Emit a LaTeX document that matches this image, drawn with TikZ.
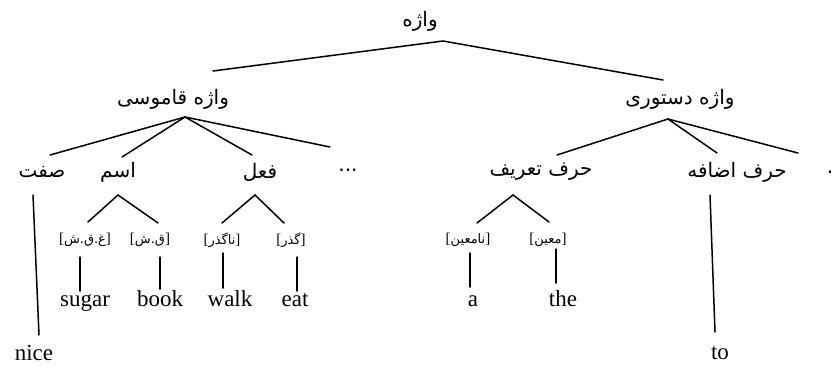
\documentclass[tikz,border=0pt]{standalone}
\usepackage{fontspec}
\setmainfont{Liberation Serif}
\newfontfamily\arabicfont[Script=Arabic]{DejaVu Sans}
\TeXXeTstate=1
\newcommand{\ar}[1]{{\arabicfont\beginR #1\endR}}
\tikzset{
  lbl/.style={font=\arabicfont\fontsize{20}{24}\selectfont, inner sep=0pt},
  brk/.style={font=\fontsize{15}{17}\selectfont, inner sep=0pt},
  brkar/.style={font=\fontsize{13}{15}\selectfont},
  en/.style={font=\fontsize{23}{26}\selectfont, inner sep=0pt},
  edge/.style={line width=1.5pt, line cap=round}
}
\newcommand{\brlab}[1]{[{\arabicfont\fontsize{13}{15}\selectfont\beginR #1\endR}]}
\begin{document}
\begin{tikzpicture}[x=1pt,y=1pt]
\useasboundingbox (0,0) rectangle (834,-367);
% nodes
\node[lbl] (root) at (420,-21) {\ar{واژه}};
\node[lbl] (lex) at (173,-99) {\ar{واژه قاموسی}};
\node[lbl] (gram) at (680,-99) {\ar{واژه دستوری}};
\node[lbl] (sifat) at (42,-172) {\ar{صفت}};
\node[lbl] (esm) at (118,-172) {\ar{اسم}};
\node[lbl] (fel) at (260,-172) {\ar{فعل}};
\node[lbl] (etc) at (348,-170) {...};
\node[lbl] (tarif) at (541,-172) {\ar{حرف تعریف}};
\node[lbl] (ezafe) at (737,-172) {\ar{حرف اضافه}};
\node[lbl] (dotr) at (830,-172) {.};
\node[brk] (b1) at (85,-240) {\brlab{غ.ق.ش}};
\node[brk] (b2) at (150,-240) {\brlab{ق.ش}};
\node[brk] (b3) at (222,-240) {\brlab{ناگذر}};
\node[brk] (b4) at (291,-240) {\brlab{گذر}};
\node[brk] (b5) at (468,-240) {\brlab{نامعین}};
\node[brk] (b6) at (548,-240) {\brlab{معین}};
\node[en, anchor=base] (sugar) at (85,-306) {sugar};
\node[en, anchor=base] (book) at (160,-306) {book};
\node[en, anchor=base] (walk) at (230,-306) {walk};
\node[en, anchor=base] (eat) at (295,-306) {eat};
\node[en, anchor=base] (a) at (473,-306) {a};
\node[en, anchor=base] (the) at (563,-306) {the};
\node[en, anchor=base] (nice) at (34,-360) {nice};
\node[en, anchor=base] (to) at (720,-359) {to};
% connector end points
\coordinate (rootA) at (443,-41);
\coordinate (lexT) at (213,-71);
\coordinate (gramT) at (663,-80);
\coordinate (lexA) at (185,-117);
\coordinate (sifatT) at (50,-155);
\coordinate (esmT) at (122,-157);
\coordinate (felT) at (252,-155);
\coordinate (etcT) at (330,-147);
\coordinate (gramA) at (668,-119);
\coordinate (tarifT) at (557,-155);
\coordinate (ezafeT) at (717,-153);
\coordinate (dotrT) at (798,-153);
\coordinate (esmA) at (118,-195);
\coordinate (b1T) at (88,-222);
\coordinate (b2T) at (158,-223);
\coordinate (felA) at (255,-195);
\coordinate (b3T) at (222,-223);
\coordinate (b4T) at (284,-223);
\coordinate (tarifA) at (513,-195);
\coordinate (b5T) at (477,-223);
\coordinate (b6T) at (549,-222);
\coordinate (sifatB) at (33,-195);
\coordinate (niceT) at (39,-335);
\coordinate (ezafeB) at (710,-195);
\coordinate (toT) at (715,-332);
\coordinate (b1B) at (80,-257); \coordinate (sugarT) at (80,-291);
\coordinate (b2B) at (160,-257); \coordinate (bookT) at (160,-289);
\coordinate (b3B) at (223,-253); \coordinate (walkT) at (223,-288);
\coordinate (b4B) at (297,-257); \coordinate (eatT) at (297,-291);
\coordinate (b5B) at (470,-253); \coordinate (aT) at (470,-287);
\coordinate (b6B) at (556,-249); \coordinate (theT) at (556,-283);
% connectors
\draw[edge] (lexT) -- (rootA) -- (gramT);
\draw[edge] (lexA) -- (sifatT);
\draw[edge] (lexA) -- (esmT);
\draw[edge] (lexA) -- (felT);
\draw[edge] (lexA) -- (etcT);
\draw[edge] (gramA) -- (tarifT);
\draw[edge] (gramA) -- (ezafeT);
\draw[edge] (gramA) -- (dotrT);
\draw[edge] (b1T) -- (esmA) -- (b2T);
\draw[edge] (b3T) -- (felA) -- (b4T);
\draw[edge] (b5T) -- (tarifA) -- (b6T);
\draw[edge] (sifatB) -- (niceT);
\draw[edge] (ezafeB) -- (toT);
\draw[edge] (b1B) -- (sugarT);
\draw[edge] (b2B) -- (bookT);
\draw[edge] (b3B) -- (walkT);
\draw[edge] (b4B) -- (eatT);
\draw[edge] (b5B) -- (aT);
\draw[edge] (b6B) -- (theT);
\end{tikzpicture}
\end{document}
